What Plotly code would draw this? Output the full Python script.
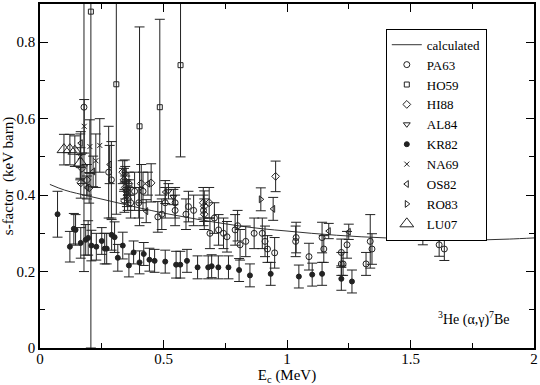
import plotly.graph_objects as go

# ---- calculated curve ----
calc_E = [0.04, 0.1, 0.2, 0.3, 0.4, 0.5, 0.6, 0.7, 0.8, 0.9, 1.0, 1.1, 1.2, 1.3, 1.4, 1.5, 1.6, 1.7, 1.8, 1.9, 2.0]
calc_S = [0.428, 0.413, 0.397, 0.382, 0.367, 0.353, 0.341, 0.330, 0.320, 0.312, 0.306, 0.300, 0.295, 0.291, 0.288, 0.285, 0.283, 0.282, 0.283, 0.285, 0.288]

# ---- PA63 (open circles) ----
pa63_E = [0.178, 0.278, 0.289, 0.367, 0.383, 0.40, 0.417, 0.477, 0.493, 0.507, 0.547, 0.547, 0.591, 0.601, 0.622,
          0.662, 0.688, 0.706, 0.723, 0.743, 0.757, 0.79, 0.80, 0.81, 0.833, 0.867, 0.90, 0.911, 0.921, 0.95,
          1.035, 1.037, 1.089, 1.142, 1.149, 1.22, 1.227, 1.22, 1.243, 1.32, 1.337, 1.344, 1.55, 1.616, 1.637]
pa63_S = [0.63, 0.46, 0.44, 0.38, 0.41, 0.38, 0.41, 0.343, 0.35, 0.38, 0.38, 0.36, 0.35, 0.37, 0.36,
          0.36, 0.30, 0.34, 0.309, 0.30, 0.291, 0.309, 0.32, 0.27, 0.279, 0.30, 0.30, 0.279, 0.259, 0.249,
          0.279, 0.289, 0.239, 0.289, 0.259, 0.22, 0.22, 0.25, 0.27, 0.22, 0.279, 0.259, 0.30, 0.27, 0.259]
pa63_up = [0.40, 0.12, 0.10, 0.04, 0.05, 0.04, 0.05, 0.04, 0.04, 0.04, 0.04, 0.04, 0.04, 0.04, 0.04,
           0.04, 0.04, 0.04, 0.04, 0.04, 0.04, 0.04, 0.04, 0.04, 0.04, 0.04, 0.04, 0.04, 0.035, 0.04,
           0.04, 0.04, 0.035, 0.04, 0.035, 0.03, 0.03, 0.035, 0.035, 0.03, 0.07, 0.04, 0.03, 0.03, 0.03]
pa63_dn = [0.43, 0.12, 0.10, 0.04, 0.05, 0.04, 0.05, 0.04, 0.04, 0.04, 0.04, 0.04, 0.04, 0.04, 0.04,
           0.04, 0.04, 0.04, 0.04, 0.04, 0.04, 0.04, 0.04, 0.04, 0.04, 0.04, 0.04, 0.04, 0.035, 0.04,
           0.04, 0.04, 0.035, 0.04, 0.035, 0.03, 0.03, 0.035, 0.035, 0.03, 0.07, 0.04, 0.03, 0.03, 0.03]

# ---- HO59 (squares) ----
ho59_E = [0.206, 0.309, 0.403, 0.485, 0.569]
ho59_S = [0.88, 0.69, 0.58, 0.63, 0.74]
ho59_up = [0.20, 0.30, 0.26, 0.23, 0.24]
ho59_dn = [0.88, 0.34, 0.26, 0.23, 0.24]

# ---- HI88 (diamonds) ----
hi88_E = [0.165, 0.17, 0.19, 0.199, 0.335, 0.34, 0.345, 0.35, 0.352, 0.355, 0.36, 0.342, 0.41, 0.45, 0.661, 0.665, 0.665, 0.685, 0.954]
hi88_S = [0.432, 0.47, 0.44, 0.419, 0.46, 0.44, 0.42, 0.41, 0.40, 0.39, 0.43, 0.385, 0.43, 0.432, 0.38, 0.371, 0.35, 0.38, 0.449]
hi88_err = [0.04, 0.04, 0.04, 0.04, 0.03, 0.03, 0.03, 0.03, 0.03, 0.03, 0.03, 0.03, 0.05, 0.05, 0.04, 0.04, 0.04, 0.04, 0.04]

# ---- AL84 (down triangles) ----
al84_E = [0.345, 0.36, 0.52, 0.54]
al84_S = [0.455, 0.42, 0.41, 0.395]
al84_err = [0.02, 0.02, 0.02, 0.02]

# ---- KR82 (filled dots) ----
kr82_E = [0.071, 0.121, 0.137, 0.144, 0.165, 0.185, 0.195, 0.208, 0.228, 0.25, 0.262, 0.27, 0.29, 0.302, 0.315,
          0.335, 0.36, 0.379, 0.403, 0.42, 0.443, 0.464, 0.507, 0.551, 0.568, 0.595, 0.638, 0.681, 0.695, 0.722,
          0.763, 0.806, 0.85, 0.934, 1.048, 1.102, 1.142, 1.22, 1.263]
kr82_S = [0.35, 0.265, 0.312, 0.309, 0.275, 0.283, 0.288, 0.268, 0.265, 0.28, 0.26, 0.26, 0.296, 0.29, 0.236,
          0.268, 0.216, 0.25, 0.224, 0.246, 0.231, 0.228, 0.226, 0.218, 0.218, 0.228, 0.211, 0.211, 0.214, 0.211,
          0.211, 0.204, 0.19, 0.194, 0.187, 0.192, 0.194, 0.181, 0.174]
kr82_err = [0.06, 0.04, 0.04, 0.04, 0.04, 0.04, 0.045, 0.04, 0.035, 0.035, 0.04, 0.04, 0.04, 0.04, 0.035,
            0.035, 0.03, 0.03, 0.03, 0.03, 0.03, 0.03, 0.03, 0.035, 0.035, 0.03, 0.03, 0.03, 0.03, 0.03,
            0.03, 0.03, 0.03, 0.03, 0.03, 0.03, 0.03, 0.03, 0.03]

# ---- NA69 (x) ----
na69_E = [0.163, 0.179, 0.202, 0.226, 0.242]
na69_S = [0.50, 0.58, 0.527, 0.49, 0.53]
na69_err = [0.06, 0.07, 0.07, 0.07, 0.07]

# ---- OS82 (left triangles) ----
os82_E = [0.165, 0.19, 0.215, 0.282, 0.343, 0.43, 0.437, 0.507, 0.944, 1.169, 1.25]
os82_S = [0.536, 0.42, 0.462, 0.48, 0.462, 0.358, 0.43, 0.408, 0.364, 0.306, 0.304]
os82_err = [0.03, 0.03, 0.04, 0.05, 0.03, 0.03, 0.03, 0.03, 0.03, 0.02, 0.02]

# ---- RO83 (right triangles) ----
ro83_E = [0.894]
ro83_S = [0.389]
ro83_err = [0.03]

# ---- LU07 (large triangles) ----
lu07_E = [0.097, 0.121, 0.141, 0.164]
lu07_S = [0.519, 0.519, 0.515, 0.484]
lu07_err = [0.04, 0.04, 0.04, 0.04]

INK = "#222222"
FONT = "Liberation Serif, DejaVu Serif, serif"

fig = go.Figure()
fig.add_trace(go.Scatter(x=calc_E, y=calc_S, mode="lines", name="calculated",
                         line=dict(color="#333333", width=1, shape="spline")))


def add_set(name, E, S, up, dn, symbol, size):
    fig.add_trace(go.Scatter(
        x=E, y=S, mode="markers", name=name,
        marker=dict(symbol=symbol, size=size, color=INK, line=dict(color=INK, width=1)),
        error_y=dict(type="data", symmetric=False, array=up, arrayminus=dn,
                     color=INK, thickness=1, width=5),
    ))


add_set("PA63", pa63_E, pa63_S, pa63_up, pa63_dn, "circle-open", 6)
add_set("HO59", ho59_E, ho59_S, ho59_up, ho59_dn, "square-open", 5)
add_set("HI88", hi88_E, hi88_S, hi88_err, hi88_err, "diamond-open", 6)
add_set("AL84", al84_E, al84_S, al84_err, al84_err, "triangle-down-open", 6)
add_set("KR82", kr82_E, kr82_S, kr82_err, kr82_err, "circle", 5)
add_set("NA69", na69_E, na69_S, na69_err, na69_err, "x-thin-open", 5)
add_set("OS82", os82_E, os82_S, os82_err, os82_err, "triangle-left-open", 6)
add_set("RO83", ro83_E, ro83_S, ro83_err, ro83_err, "triangle-right-open", 6)
add_set("LU07", lu07_E, lu07_S, lu07_err, lu07_err, "triangle-up-open", 12)

fig.add_annotation(x=0.955, y=0.085, xref="paper", yref="paper", xanchor="right", yanchor="middle",
                   text="<sup>3</sup>He (α,γ)<sup>7</sup>Be", showarrow=False,
                   font=dict(family=FONT, size=14, color="black"))

axis_common = dict(showline=True, linecolor="black", linewidth=1.5, mirror="ticks",
                   ticks="inside", ticklen=8, tickwidth=1, tickcolor="black",
                   showgrid=False, zeroline=False,
                   tickfont=dict(family=FONT, size=15, color="black"))

fig.update_xaxes(range=[0, 2], tickvals=[0, 0.5, 1, 1.5, 2], ticktext=["0", "0.5", "1", "1.5", "2"],
                 minor=dict(tickvals=[0.25, 0.75, 1.25, 1.75], ticklen=5, tickcolor="black", ticks="inside"),
                 ticklabelstandoff=-4,
                 title=dict(text="E<sub>c</sub> (MeV)", font=dict(family=FONT, size=15, color="black"), standoff=0),
                 **axis_common)
fig.update_yaxes(range=[0, 0.9], tickvals=[0, 0.2, 0.4, 0.6, 0.8], ticktext=["0", "0.2", "0.4", "0.6", "0.8"],
                 minor=dict(tickvals=[0.1, 0.3, 0.5, 0.7], ticklen=5, tickcolor="black", ticks="inside"),
                 title=dict(text="s-factor  (keV barn)", font=dict(family=FONT, size=15, color="black"), standoff=4),
                 **axis_common)

fig.update_layout(
    width=540, height=385,
    margin=dict(l=40, r=4, t=2, b=37),
    paper_bgcolor="white", plot_bgcolor="white",
    showlegend=True,
    legend=dict(x=0.70, y=0.928, xanchor="left", yanchor="top",
                bgcolor="white", bordercolor="black", borderwidth=1,
                font=dict(family=FONT, size=13, color="black"),
                itemwidth=30, tracegroupgap=0),
    font=dict(family=FONT, color="black"),
)

fig.write_html("out.html", config={"displayModeBar": False},
               post_script="document.body.style.margin='0';document.body.style.overflow='hidden';")
